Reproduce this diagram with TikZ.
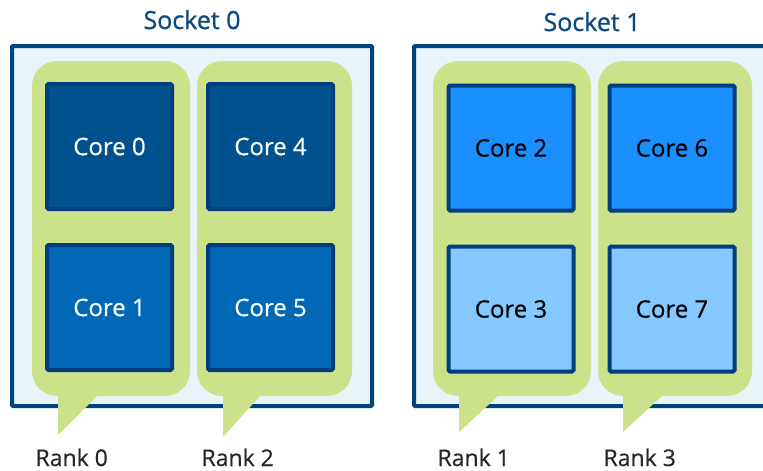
\documentclass[tikz,border=0pt]{standalone}
\usepackage{fontspec}
\setmainfont{Open Sans}[FakeBold=0.4]
\newfontfamily\socketfont{Open Sans}[FakeBold=0.9]
\usetikzlibrary{positioning}
\definecolor{sockedge}{HTML}{00447F}
\definecolor{sockfill}{HTML}{E8F3FA}
\definecolor{socktext}{HTML}{0B4A7F}
\definecolor{rankgreen}{HTML}{CCE28A}
\definecolor{coreedge}{HTML}{003E7E}
\definecolor{coredark}{HTML}{00528F}
\definecolor{coremid}{HTML}{0068B5}
\definecolor{corebright}{HTML}{1A8FFF}
\definecolor{corelight}{HTML}{85C8FF}
\definecolor{ranktext}{HTML}{262626}

\begin{document}
\begin{tikzpicture}[x=1pt, y=-1pt, node distance=161pt, socket box/.style={draw=sockedge, line width=4pt, fill=sockfill}, socket label/.style={anchor=base, text=socktext, font=\socketfont\fontsize{25}{29}\selectfont}, core node/.style={rectangle, draw=coreedge, line width=4pt, minimum size=125pt, inner sep=0pt, rounded corners=1.5pt, font=\fontsize{24}{28}\selectfont}, rank label/.style={anchor=base west, text=ranktext, font=\fontsize{23}{27}\selectfont}]
	\useasboundingbox (0,0) rectangle (763,471);
	\clip (0,0) rectangle (763,471);
	% sockets
	\draw[socket box, rounded corners=1pt] (12,46) rectangle (372,406);
	\draw[socket box, rounded corners=1pt] (414,46) rectangle (770,406);
	\node[socket label] (S0) at (192,29) {Socket 0};
	\node[socket label] (S1) at (592,31) {Socket 1};
	% ranks
	\foreach \l/\r/\ta/\tb/\tip in {32/190/58/97/435, 197/352/223/260/437, 433/591/459/498/432, 598/752/623/662/432} {
		\fill[rankgreen, rounded corners=25pt] (\l,61) rectangle (\r,396);
		\fill[rankgreen] (\ta,370) -- (\ta,\tip) -- (\tb,396) -- (\tb,370) -- cycle;
	}
	% cores
	\node[core node, fill=coredark, text=white] (C0) at (109.5,146.5) {Core 0};
	\node[core node, fill=coredark, text=white] (C4) [right of=C0] {Core 4};
	\node[core node, fill=coremid, text=white] (C1) [below of=C0] {Core 1};
	\node[core node, fill=coremid, text=white] (C5) [below of=C4] {Core 5};
	\node[core node, fill=corebright] (C2) at (511,148) {Core 2};
	\node[core node, fill=corebright] (C6) [right of=C2] {Core 6};
	\node[core node, fill=corelight] (C3) [below of=C2] {Core 3};
	\node[core node, fill=corelight] (C7) [below of=C6] {Core 7};
	% labels
	\node[rank label] (R0) at (32,466) {Rank 0};
	\node[rank label] (R2) at (198,466) {Rank 2};
	\node[rank label] (R1) at (434,466) {Rank 1};
	\node[rank label] (R3) at (600,466) {Rank 3};
\end{tikzpicture}
\end{document}
